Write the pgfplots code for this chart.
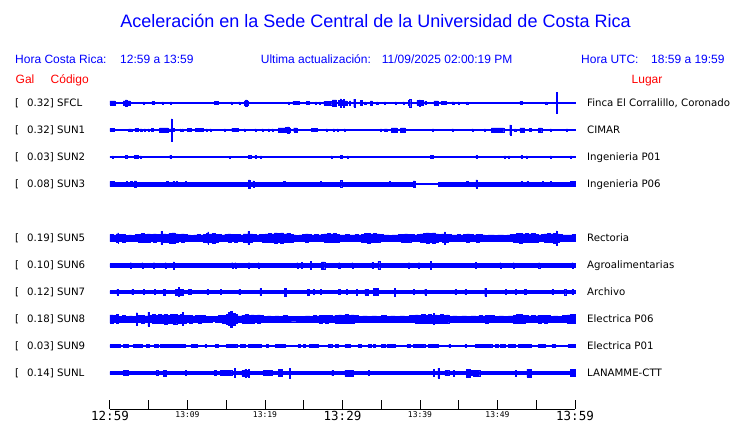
\documentclass[border=0pt]{standalone}
\usepackage{fontspec}
\setmainfont{DejaVu Sans}
\newfontfamily\hv{Liberation Sans}
\newfontfamily\mono{DejaVu Sans Mono}
\usepackage{pgfplots}
\pgfplotsset{compat=1.18}
\usepackage{pgfplotstable}
\usepgfplotslibrary{fillbetween}

\definecolor{tblue}{RGB}{0,0,255}
\definecolor{tred}{RGB}{255,0,0}

% envelope of each trace: t = minutes after 12:59, a = half height (px)
\pgfplotstableread[row sep=\\]{t a\\
0 2.0\\ 0.65 0.6\\ 1.7 2.0\\ 2.0 3.0\\ 2.2 2.0\\ 2.6 0.6\\ 4.3 1.0\\ 4.45 0.6\\ 5.4 1.5\\ 5.7 0.6\\
6.75 1.2\\ 6.9 0.6\\ 7.8 1.2\\ 7.95 0.6\\ 13.5 1.5\\ 14.0 0.6\\ 15.6 1.2\\ 15.75 0.6\\ 16.6 1.2\\ 16.75 0.6\\
17.35 2.0\\ 17.5 3.0\\ 17.65 2.0\\ 17.85 0.6\\ 23.0 1.0\\ 23.15 0.6\\ 23.6 1.6\\ 24.4 0.6\\ 25.3 1.5\\ 25.7 0.6\\
26.5 1.0\\ 26.65 0.6\\ 27.0 1.0\\ 27.15 0.6\\ 27.6 1.8\\ 28.6 0.6\\ 28.7 3.0\\ 29.2 0.6\\ 29.5 2.5\\ 29.7 4.0\\
29.85 2.5\\ 30.1 3.8\\ 30.25 2.2\\ 30.6 0.6\\ 30.9 2.0\\ 31.05 0.6\\ 31.45 3.8\\ 31.6 0.6\\ 32.3 2.5\\ 32.5 0.6\\
32.85 1.2\\ 33.0 0.6\\ 33.6 2.2\\ 33.85 0.6\\ 34.4 1.2\\ 34.55 0.6\\ 35.4 1.0\\ 35.55 0.6\\ 36.8 1.0\\ 36.95 0.6\\
37.8 1.0\\ 37.95 0.6\\ 38.5 2.5\\ 38.65 3.8\\ 38.8 0.6\\ 39.6 2.5\\ 39.9 3.2\\ 40.05 2.5\\ 40.4 0.6\\ 40.6 1.5\\
40.8 0.6\\ 41.8 2.0\\ 42.35 0.6\\ 42.7 1.5\\ 43.4 0.6\\ 44.1 1.0\\ 44.4 0.6\\ 44.9 1.0\\ 45.05 0.6\\ 46.0 1.0\\
46.15 0.6\\ 52.9 1.5\\ 53.15 0.6\\ 56.2 1.0\\ 56.35 0.6\\ 57.55 10.5\\ 57.68 3.0\\ 57.75 0.6\\ 60 0.6\\
}\tsfcl

\pgfplotstableread[row sep=\\]{t a\\
0 1.5\\ 0.55 0.6\\ 2.4 1.0\\ 2.8 0.6\\ 3.2 1.5\\ 3.6 0.6\\ 3.9 1.0\\ 4.1 0.6\\ 4.4 1.0\\ 4.55 0.6\\
4.9 1.0\\ 5.05 0.6\\ 5.35 1.5\\ 5.55 0.6\\ 6.4 2.0\\ 7.5 1.2\\ 7.88 11.0\\ 8.0 1.5\\ 8.3 0.6\\ 9.0 1.0\\
9.15 0.6\\ 9.3 1.0\\ 9.45 0.6\\ 10.0 1.5\\ 10.5 0.6\\ 11.05 1.6\\ 12.0 0.6\\ 12.4 1.0\\ 12.55 0.6\\ 12.9 1.0\\
13.05 0.6\\ 14.75 1.0\\ 14.9 0.6\\ 15.7 1.5\\ 16.5 0.6\\ 17.3 1.0\\ 17.45 0.6\\ 18.7 1.0\\ 18.85 0.6\\ 19.6 1.0\\
19.75 0.6\\ 20.4 1.0\\ 20.55 0.6\\ 20.9 1.0\\ 21.05 0.6\\ 21.7 2.0\\ 22.6 2.5\\ 22.9 3.0\\ 23.1 2.0\\ 23.25 0.6\\
23.7 2.0\\ 24.1 0.6\\ 26.0 1.5\\ 26.7 0.6\\ 27.9 1.0\\ 28.05 0.6\\ 28.8 1.0\\ 28.95 0.6\\ 29.3 1.0\\ 29.45 0.6\\
30.2 1.0\\ 30.35 0.6\\ 34.9 1.0\\ 35.05 0.6\\ 35.4 1.2\\ 35.8 0.6\\ 36.3 2.0\\ 37.0 0.6\\ 37.5 2.0\\ 38.1 0.6\\
41.6 1.0\\ 41.75 0.6\\ 44.1 1.0\\ 44.3 0.6\\ 46.7 1.0\\ 46.85 0.6\\ 48.3 1.2\\ 48.45 0.6\\ 49.2 2.0\\ 50.8 0.6\\
51.58 5.0\\ 51.7 0.6\\ 52.2 1.2\\ 52.35 0.6\\ 52.9 2.0\\ 53.5 0.6\\ 54.1 1.5\\ 54.4 0.6\\ 55.3 2.0\\ 55.7 0.6\\
56.8 1.0\\ 56.95 0.6\\ 58.9 1.0\\ 59.05 0.6\\ 60 0.6\\
}\tsuna

\pgfplotstableread[row sep=\\]{t a\\
0 0.6\\ 0.3 1.0\\ 0.45 0.6\\ 1.95 1.5\\ 2.15 0.6\\ 3.1 1.5\\ 3.6 0.6\\ 3.9 1.2\\ 4.05 0.6\\ 7.7 1.5\\
7.85 0.6\\ 15.4 0.9\\ 15.5 0.6\\ 17.85 1.5\\ 18.15 0.6\\ 18.7 1.5\\ 18.9 0.6\\ 19.4 1.0\\ 19.55 0.6\\ 28.5 1.0\\
28.65 0.6\\ 29.7 1.5\\ 30.0 0.6\\ 30.6 1.2\\ 30.75 0.6\\ 41.3 1.5\\ 41.7 0.6\\ 47.2 1.5\\ 47.4 0.6\\ 50.9 1.0\\
51.05 0.6\\ 51.4 1.0\\ 51.55 0.6\\ 53.0 1.5\\ 53.2 0.6\\ 53.7 1.0\\ 53.85 0.6\\ 56.8 1.0\\ 56.95 0.6\\ 59.4 1.0\\
59.55 0.6\\ 60 0.6\\
}\tsunb

\pgfplotstableread[row sep=\\]{t a\\
0 2.6\\ 0.6 1.8\\ 2.1 2.6\\ 2.25 1.8\\ 2.65 2.6\\ 2.8 1.8\\ 3.1 3.0\\ 3.4 1.8\\ 7.3 2.5\\ 7.45 1.8\\
8.1 2.5\\ 8.25 1.8\\ 8.5 2.5\\ 8.65 1.8\\ 9.7 2.5\\ 9.85 1.8\\ 17.85 4.0\\ 18.05 1.8\\ 18.45 3.0\\ 18.6 1.8\\
22.4 2.5\\ 22.55 1.8\\ 27.1 2.5\\ 27.25 1.8\\ 29.7 3.5\\ 29.9 1.8\\ 36.0 2.5\\ 36.15 1.8\\ 39.1 3.0\\ 39.35 0.6\\
42.4 1.8\\ 46.0 2.5\\ 46.15 1.8\\ 47.2 4.0\\ 47.4 1.8\\ 53.0 2.5\\ 53.15 1.8\\ 53.8 2.5\\ 53.95 1.8\\ 55.8 2.5\\
55.95 1.8\\ 56.8 2.5\\ 56.95 1.8\\ 59.4 2.5\\ 60 2.5\\
}\tsunc

\pgfplotstableread[row sep=\\]{t a\\
0 3.6\\ 0.4 3.1\\ 0.8 4.0\\ 1.0 5.0\\ 1.1 3.4\\ 1.6 3.8\\ 2.0 2.8\\ 2.4 3.2\\ 2.8 2.8\\ 3.2 3.4\\ 3.6 3.8\\
4.0 4.4\\ 4.4 3.8\\ 4.8 4.2\\ 5.2 3.6\\ 5.6 4.1\\ 6.0 3.6\\ 6.55 6.5\\ 6.68 4.0\\ 7.2 3.8\\ 7.6 4.8\\
8.0 5.1\\ 8.4 4.0\\ 8.8 3.4\\ 9.2 4.0\\ 9.6 3.6\\ 10.0 3.2\\ 10.4 2.8\\ 10.8 3.0\\ 11.2 3.4\\ 11.6 3.2\\
12.0 3.8\\ 12.4 4.6\\ 12.6 6.0\\ 12.72 4.2\\ 13.2 4.8\\ 13.6 3.8\\ 14.0 3.4\\ 14.4 3.2\\ 14.8 3.6\\ 15.2 4.0\\ 15.6 3.4\\
16.0 3.8\\ 16.4 3.6\\ 16.8 3.2\\ 17.2 4.0\\ 17.8 6.5\\ 17.92 4.2\\ 18.4 3.6\\ 18.8 3.2\\ 19.2 3.4\\ 19.6 3.8\\
20.0 4.2\\ 20.4 4.6\\ 20.8 4.0\\ 21.2 5.1\\ 21.6 4.6\\ 22.0 5.0\\ 22.4 4.2\\ 22.8 4.6\\ 23.2 3.8\\ 23.6 3.0\\
24.0 2.8\\ 24.4 3.2\\ 24.8 3.4\\ 25.2 4.0\\ 25.6 3.6\\ 26.0 3.2\\ 26.4 3.4\\ 26.8 3.0\\ 27.2 3.6\\ 27.6 4.2\\
28.0 4.6\\ 28.4 4.0\\ 28.8 4.4\\ 29.2 3.8\\ 29.6 3.2\\ 30.0 3.0\\ 30.4 3.4\\ 30.8 3.2\\ 31.2 3.0\\ 31.6 3.4\\
32.0 3.2\\ 32.4 3.8\\ 32.8 4.4\\ 33.2 4.8\\ 33.6 4.2\\ 34.0 4.6\\ 34.4 4.0\\ 34.8 3.6\\ 35.2 3.0\\ 35.6 3.2\\
36.0 2.8\\ 36.4 3.2\\ 36.8 3.0\\ 37.2 3.4\\ 37.6 3.8\\ 38.0 4.2\\ 38.4 3.8\\ 38.8 3.4\\ 39.2 3.2\\ 39.6 3.6\\
40.0 4.0\\ 40.4 4.6\\ 40.8 5.2\\ 41.2 4.6\\ 41.6 5.0\\ 42.0 4.2\\ 42.4 3.6\\ 42.8 4.0\\ 43.15 6.0\\ 43.27 3.8\\
43.6 3.4\\ 44.0 3.2\\ 44.4 3.0\\ 44.8 3.4\\ 45.2 3.2\\ 45.6 3.6\\ 46.0 4.0\\ 46.4 3.6\\ 46.8 3.2\\ 47.2 3.8\\
47.6 3.4\\ 48.0 3.0\\ 48.4 2.8\\ 48.8 3.0\\ 49.2 3.2\\ 49.6 2.8\\ 50.0 3.0\\ 50.4 3.2\\ 50.8 2.8\\ 51.2 3.0\\
51.6 3.4\\ 52.0 3.8\\ 52.4 4.4\\ 52.8 4.8\\ 53.2 4.2\\ 53.6 4.6\\ 54.0 4.0\\ 54.4 4.4\\ 54.8 3.8\\ 55.2 3.2\\
55.6 3.4\\ 56.0 4.2\\ 56.4 4.6\\ 56.8 4.2\\ 57.2 4.8\\ 57.55 7.0\\ 57.67 4.0\\ 58.0 3.6\\ 58.4 3.2\\ 58.8 3.0\\
59.2 3.2\\ 59.6 3.4\\ 60 3.4\\
}\tsune

\pgfplotstableread[row sep=\\]{t a\\
0 1.7\\ 2.6 2.6\\ 2.75 1.7\\ 4.1 2.6\\ 4.25 1.7\\ 5.6 2.6\\ 5.75 1.7\\ 7.1 2.6\\ 7.25 1.7\\ 8.15 3.5\\
8.3 1.7\\ 15.7 2.6\\ 15.85 1.7\\ 16.1 2.6\\ 16.25 1.7\\ 17.85 2.6\\ 18.0 1.7\\ 19.1 2.6\\ 19.25 1.7\\ 24.1 2.6\\
24.25 1.7\\ 24.7 3.0\\ 24.85 1.7\\ 25.85 4.0\\ 26.0 1.7\\ 27.3 3.5\\ 27.7 1.7\\ 29.5 2.6\\ 29.65 1.7\\ 31.2 2.6\\
31.35 1.7\\ 33.8 3.0\\ 33.95 1.7\\ 34.55 4.0\\ 34.8 1.7\\ 38.5 2.6\\ 38.65 1.7\\ 39.8 2.6\\ 39.95 1.7\\ 41.3 4.0\\
41.45 1.7\\ 47.1 3.0\\ 47.25 1.7\\ 50.3 2.6\\ 50.45 1.7\\ 52.0 2.6\\ 52.15 1.7\\ 55.3 2.6\\ 55.45 1.7\\ 59.6 2.6\\
59.75 1.7\\ 60 1.7\\
}\tsunf

\pgfplotstableread[row sep=\\]{t a\\
0 1.5\\ 0.9 3.0\\ 1.1 1.5\\ 2.8 2.5\\ 2.95 1.5\\ 4.3 2.5\\ 4.45 1.5\\ 5.7 2.5\\ 5.85 1.5\\ 6.9 3.0\\
7.1 1.5\\ 8.4 3.0\\ 8.8 4.5\\ 8.95 3.0\\ 9.5 1.5\\ 10.1 2.5\\ 10.5 1.5\\ 12.5 2.5\\ 12.65 1.5\\ 14.2 2.5\\
14.35 1.5\\ 16.6 2.5\\ 16.75 1.5\\ 19.35 3.5\\ 19.55 1.5\\ 22.5 4.0\\ 22.7 1.5\\ 25.5 3.0\\ 25.65 1.5\\ 26.2 2.5\\
26.35 1.5\\ 27.1 2.5\\ 27.25 1.5\\ 29.5 2.5\\ 29.65 1.5\\ 30.5 2.5\\ 30.65 1.5\\ 31.8 3.0\\ 31.95 1.5\\ 32.9 3.0\\
33.3 1.5\\ 34.0 3.5\\ 34.6 1.5\\ 36.65 4.0\\ 36.8 1.5\\ 39.1 2.5\\ 39.25 1.5\\ 40.6 3.0\\ 40.75 1.5\\ 44.5 2.5\\
44.65 1.5\\ 45.8 2.5\\ 45.95 1.5\\ 48.35 4.0\\ 48.5 1.5\\ 51.0 2.5\\ 51.15 1.5\\ 52.3 2.5\\ 52.45 1.5\\ 53.5 2.5\\
53.65 1.5\\ 57.0 2.5\\ 57.15 1.5\\ 58.6 3.0\\ 58.8 1.5\\ 59.6 2.5\\ 59.75 1.5\\ 60 1.5\\
}\tsung

\pgfplotstableread[row sep=\\]{t a\\
0 4.1\\ 0.4 3.6\\ 0.8 4.4\\ 1.1 3.0\\ 1.6 3.4\\ 2.0 2.8\\ 2.5 3.2\\ 2.9 2.9\\ 3.4 6.3\\ 3.52 3.4\\
4.0 3.8\\ 4.4 3.2\\ 4.9 7.0\\ 5.02 3.6\\ 5.4 4.4\\ 5.8 4.0\\ 6.2 4.6\\ 6.6 4.2\\ 7.0 4.8\\ 7.4 4.0\\
7.8 4.4\\ 8.2 4.8\\ 8.6 4.0\\ 9.0 4.4\\ 9.3 6.5\\ 9.42 3.8\\ 9.8 3.4\\ 10.2 3.8\\ 10.6 3.2\\ 11.0 3.6\\
11.4 4.0\\ 11.8 3.4\\ 12.3 2.8\\ 12.8 3.0\\ 13.2 2.6\\ 13.6 3.0\\ 14.0 3.6\\ 14.5 4.0\\ 15.0 5.0\\ 15.3 6.5\\
15.55 7.8\\ 15.8 6.0\\ 16.1 4.6\\ 16.4 3.2\\ 17.0 4.0\\ 17.4 4.4\\ 17.8 3.8\\ 18.2 4.2\\ 18.6 3.6\\ 19.0 4.2\\
19.4 3.6\\ 19.8 3.0\\ 20.3 3.2\\ 20.8 2.8\\ 21.3 3.2\\ 21.8 3.0\\ 22.3 3.4\\ 22.8 2.9\\ 23.4 2.7\\ 24.0 3.0\\
24.6 2.8\\ 25.2 3.1\\ 25.8 2.8\\ 26.2 3.6\\ 26.6 3.2\\ 27.0 3.8\\ 27.4 3.4\\ 27.8 4.0\\ 28.2 3.6\\ 28.6 3.2\\
29.0 3.8\\ 29.5 4.2\\ 29.9 3.8\\ 30.3 4.4\\ 30.7 4.0\\ 31.1 4.2\\ 31.5 3.6\\ 32.0 3.0\\ 32.6 3.2\\ 33.2 2.8\\
33.8 3.2\\ 34.4 3.0\\ 35.0 3.4\\ 35.6 2.9\\ 36.2 3.2\\ 36.8 2.8\\ 37.4 3.2\\ 38.0 3.0\\ 38.6 3.6\\ 39.0 3.4\\
39.4 4.2\\ 39.8 3.8\\ 40.2 4.4\\ 40.6 4.0\\ 41.0 4.4\\ 41.4 3.8\\ 41.7 5.5\\ 41.82 4.2\\ 42.2 4.0\\ 42.6 4.4\\
43.0 3.8\\ 43.4 4.2\\ 43.7 3.0\\ 44.2 3.2\\ 44.8 2.8\\ 45.4 3.1\\ 46.0 2.9\\ 46.6 3.2\\ 47.2 3.0\\ 47.6 3.6\\
48.0 3.2\\ 48.4 3.8\\ 48.8 3.4\\ 49.2 3.6\\ 49.6 3.0\\ 50.2 3.2\\ 50.8 2.9\\ 51.4 3.2\\ 52.0 3.8\\ 52.4 4.4\\
52.8 4.6\\ 53.2 4.0\\ 53.6 3.6\\ 54.0 3.2\\ 54.4 3.6\\ 54.8 3.2\\ 55.2 3.8\\ 55.6 3.4\\ 56.0 4.0\\ 56.4 3.4\\
56.8 3.0\\ 57.2 3.2\\ 57.8 3.0\\ 58.4 3.4\\ 59.0 4.2\\ 59.4 4.6\\ 60 4.6\\
}\tsunh

\pgfplotstableread[row sep=\\]{t a\\
0 1.4\\ 0.5 0.6\\ 0.65 1.4\\ 1.3 0.6\\ 1.7 1.4\\ 2.4 0.6\\ 3.0 1.4\\ 3.5 0.6\\ 3.65 1.4\\ 4.1 0.6\\
4.7 1.4\\ 5.1 0.6\\ 5.7 1.4\\ 6.25 0.6\\ 6.45 1.4\\ 7.2 0.6\\ 7.35 1.4\\ 8.3 0.6\\ 8.45 1.4\\ 9.7 0.6\\
10.45 1.4\\ 11.2 0.6\\ 12.25 1.4\\ 12.45 0.6\\ 13.55 1.4\\ 14.0 0.6\\ 15.05 1.4\\ 15.6 0.6\\ 15.75 1.4\\ 16.35 0.6\\
16.8 1.4\\ 17.4 0.6\\ 17.85 1.4\\ 18.6 0.6\\ 18.75 1.4\\ 19.55 0.6\\ 20.2 1.4\\ 20.45 0.6\\ 21.3 1.4\\ 22.6 0.6\\
24.3 1.4\\ 24.5 0.6\\ 24.95 1.4\\ 25.15 0.6\\ 25.7 1.4\\ 26.05 0.6\\ 26.25 1.4\\ 26.9 0.6\\ 28.2 1.4\\ 28.6 0.6\\
29.05 1.4\\ 29.5 0.6\\ 30.3 1.4\\ 31.0 0.6\\ 32.05 1.4\\ 32.4 0.6\\ 33.3 1.4\\ 33.75 0.6\\ 34.0 1.4\\ 34.2 0.6\\
35.05 1.4\\ 35.5 0.6\\ 35.7 1.4\\ 36.8 0.6\\ 38.3 1.4\\ 38.7 0.6\\ 39.1 1.4\\ 39.8 0.6\\ 39.95 1.4\\ 40.6 0.6\\
41.1 1.4\\ 41.7 0.6\\ 41.85 1.4\\ 42.4 0.6\\ 43.7 1.4\\ 43.9 0.6\\ 45.8 1.4\\ 46.0 0.6\\ 47.1 1.4\\ 48.1 0.6\\
48.25 1.4\\ 49.25 0.6\\ 49.7 1.4\\ 50.1 0.6\\ 50.3 1.4\\ 51.0 0.6\\ 51.4 1.4\\ 52.3 0.6\\ 52.7 1.4\\ 53.3 0.6\\
53.5 1.4\\ 54.4 0.6\\ 55.3 1.4\\ 56.1 0.6\\ 57.0 1.4\\ 57.4 0.6\\ 59.1 1.4\\ 60 1.4\\
}\tsuni

\pgfplotstableread[row sep=\\]{t a\\
0 1.5\\ 1.7 2.5\\ 2.4 1.5\\ 6.0 2.5\\ 6.15 1.5\\ 6.9 3.0\\ 7.3 1.5\\ 9.7 2.5\\ 9.85 1.5\\ 13.5 2.5\\
13.65 1.5\\ 14.2 2.5\\ 15.7 1.5\\ 16.05 4.5\\ 16.18 1.5\\ 17.0 3.0\\ 17.4 4.0\\ 17.55 3.0\\ 17.85 4.0\\ 18.0 1.5\\
19.8 2.5\\ 20.9 1.5\\ 21.7 3.5\\ 22.2 1.5\\ 23.15 5.0\\ 23.28 1.5\\ 28.6 2.5\\ 28.75 1.5\\ 30.3 3.0\\ 31.4 1.5\\
33.3 2.5\\ 33.45 1.5\\ 41.7 3.5\\ 41.85 1.5\\ 42.3 5.0\\ 42.43 1.5\\ 43.2 2.5\\ 43.7 1.5\\ 44.3 3.0\\ 44.45 1.5\\
46.0 4.0\\ 46.5 2.5\\ 46.9 3.0\\ 47.7 1.5\\ 52.3 3.0\\ 52.45 1.5\\ 53.8 4.0\\ 54.4 1.5\\ 59.4 3.5\\ 60 3.5\\
}\tsunl

% #1 table, #2 row (y = -pixel row), #3 id
\newcommand\trace[3]{%
  \addplot[name path=up#3, draw=none, const plot] table[x=t, y expr={#2+\thisrow{a}}] {#1};
  \addplot[name path=lo#3, draw=none, const plot] table[x=t, y expr={#2-\thisrow{a}}] {#1};
  \addplot[fill=tblue, draw=tblue, line width=0.3bp] fill between[of=up#3 and lo#3];
}
% #1 baseline y, #2 value, #3 code, #4 place
\newcommand\lab[4]{%
  \node[lbl] at (axis cs:-12.258,#1) {[};
  \node[lbl] at (axis cs:-10.710,#1) {#2] #3};
  \node[lbl] at (axis cs:61.548,#1) {#4};
}
\newcommand\bt[1]{{\mono\fontsize{12.5bp}{14bp}\selectfont #1}}
\newcommand\st[1]{{\mono\fontsize{8bp}{9bp}\selectfont #1}}

\tikzset{
  lbl/.style={anchor=base west, inner sep=0pt, font=\fontsize{10.2bp}{12bp}\selectfont},
  hdr/.style={anchor=base west, inner sep=0pt, text=tblue, font=\hv\fontsize{12bp}{14bp}\selectfont},
  red/.style={anchor=base west, inner sep=0pt, text=tred, font=\hv\fontsize{12bp}{14bp}\selectfont},
}

\begin{document}
\begin{tikzpicture}
\begin{axis}[
    scale only axis,
    width=465bp,
    height=319bp,
    xmin=0, xmax=60,
    ymin=-409, ymax=-90,
    axis x line=bottom,
    axis y line=none,
    x axis line style={-, line width=1bp, black},
    xtick={0,10,...,60},
    xticklabels={\bt{12:59},\st{13:09},\st{13:19},\bt{13:29},\st{13:39},\st{13:49},\bt{13:59}},
    minor xtick={5,15,...,55},
    tick align=inside,
    major tick length=9bp,
    minor tick length=9bp,
    tick style={black, line width=1bp},
    xticklabel style={anchor=north, inner sep=0pt, yshift=-2.5bp},
    clip=false,
]

\trace{\tsfcl}{-103}{sfcl}
\trace{\tsuna}{-130}{suna}
\trace{\tsunb}{-157}{sunb}
\trace{\tsunc}{-184}{sunc}
\trace{\tsune}{-238}{sune}
\trace{\tsunf}{-265.3}{sunf}
\trace{\tsung}{-292}{sung}
\trace{\tsunh}{-319}{sunh}
\trace{\tsuni}{-346}{suni}
\trace{\tsunl}{-373}{sunl}

\lab{-106.7}{0.32}{SFCL}{Finca El Corralillo, Coronado}
\lab{-133.7}{0.32}{SUN1}{CIMAR}
\lab{-160.7}{0.03}{SUN2}{Ingenieria P01}
\lab{-187.7}{0.08}{SUN3}{Ingenieria P06}
\lab{-241.7}{0.19}{SUN5}{Rectoria}
\lab{-268.7}{0.10}{SUN6}{Agroalimentarias}
\lab{-295.7}{0.12}{SUN7}{Archivo}
\lab{-322.7}{0.18}{SUN8}{Electrica P06}
\lab{-349.7}{0.03}{SUN9}{Electrica P01}
\lab{-376.7}{0.14}{SUNL}{LANAMME-CTT}

\node[anchor=base, inner sep=0pt, text=tblue, font=\hv\fontsize{18bp}{20bp}\selectfont]
  at (axis cs:34.258,-28) {Aceleración en la Sede Central de la Universidad de Costa Rica};

\node[hdr] at (axis cs:-12.258,-64) {Hora Costa Rica:};
\node[hdr] at (axis cs:1.290,-64) {12:59 a 13:59};
\node[hdr] at (axis cs:19.445,-64) {Ultima actualización:};
\node[hdr] at (axis cs:35.058,-64) {11/09/2025 02:00:19 PM};
\node[hdr] at (axis cs:60.774,-64) {Hora UTC:};
\node[hdr] at (axis cs:69.806,-64) {18:59 a 19:59};

\node[red] at (axis cs:-12.194,-84) {Gal};
\node[red] at (axis cs:-7.677,-84) {Código};
\node[red] at (axis cs:67.290,-84) {Lugar};

\coordinate (bbsw) at (axis cs:-14.1935,-423);
\coordinate (bbne) at (axis cs:81.2903,0);
\end{axis}
\pgfresetboundingbox
\path (bbsw) rectangle (bbne);
\end{tikzpicture}
\end{document}
